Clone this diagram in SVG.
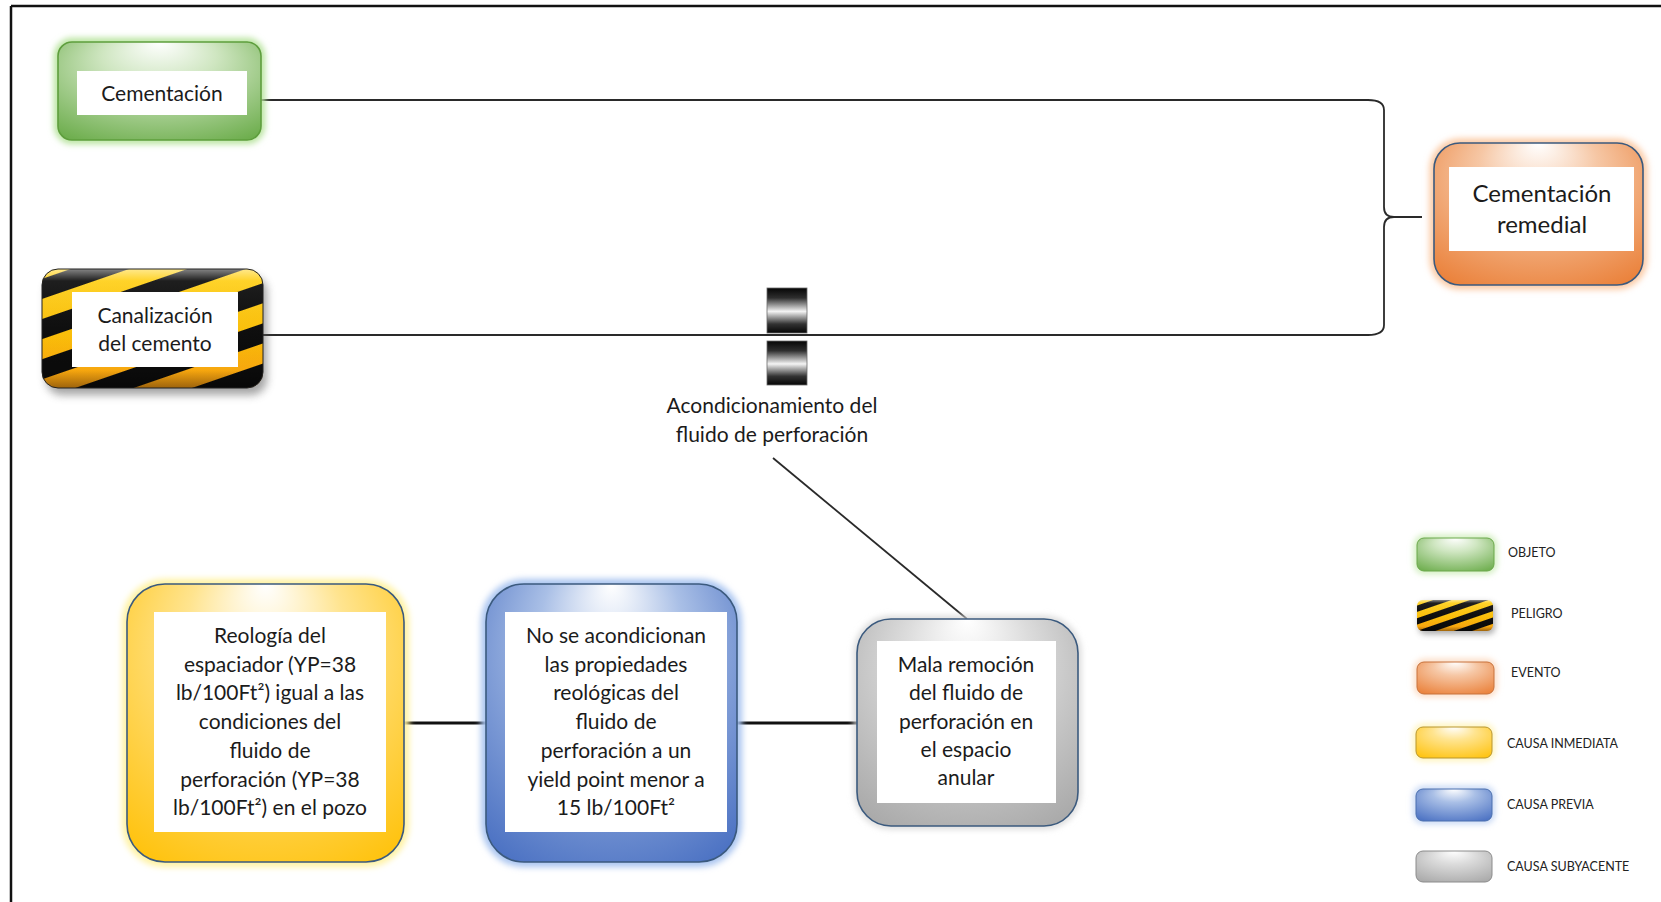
<svg xmlns="http://www.w3.org/2000/svg" width="1661" height="902" viewBox="0 0 1661 902">
  <style>
    .lbl { font-family: Lato, "Open Sans", "Liberation Sans", sans-serif; font-size: 21px; fill: #1b1b1b; text-anchor: middle; }
    .big { font-size: 24px; }
    .leg { font-family: Lato, "Open Sans", "Liberation Sans", sans-serif; font-size: 12.5px; fill: #222; }
    .conn { fill: none; stroke: #2a2a2a; stroke-width: 1.8; }
    .conn-heavy { fill: none; stroke: #111; stroke-width: 3; }
    .box { fill: #ffffff; }
    .edge { stroke: #3b5a7e; stroke-width: 1.6; }
  </style>
  <defs>
    <filter id="soft" x="-30%" y="-30%" width="160%" height="160%">
      <feGaussianBlur stdDeviation="3"/>
    </filter>
    <filter id="shadow" x="-30%" y="-30%" width="160%" height="160%">
      <feGaussianBlur stdDeviation="4"/>
    </filter>
    <radialGradient id="gGreen" cx="50%" cy="40%" r="80%" fx="50%" fy="0%">
      <stop offset="0" stop-color="#ffffff"/>
      <stop offset="0.35" stop-color="#cfe6c1"/>
      <stop offset="1" stop-color="#64a842"/>
    </radialGradient>
    <radialGradient id="gOrange" cx="50%" cy="40%" r="80%" fx="50%" fy="0%">
      <stop offset="0" stop-color="#ffffff"/>
      <stop offset="0.35" stop-color="#f6c7a5"/>
      <stop offset="1" stop-color="#e9792e"/>
    </radialGradient>
    <radialGradient id="gYellow" cx="50%" cy="40%" r="80%" fx="50%" fy="0%">
      <stop offset="0" stop-color="#ffffff"/>
      <stop offset="0.35" stop-color="#ffe48f"/>
      <stop offset="1" stop-color="#ffbf00"/>
    </radialGradient>
    <radialGradient id="gBlue" cx="50%" cy="40%" r="80%" fx="50%" fy="0%">
      <stop offset="0" stop-color="#ffffff"/>
      <stop offset="0.35" stop-color="#a9bfe6"/>
      <stop offset="1" stop-color="#4169bf"/>
    </radialGradient>
    <radialGradient id="gGray" cx="50%" cy="40%" r="80%" fx="50%" fy="0%">
      <stop offset="0" stop-color="#ffffff"/>
      <stop offset="0.35" stop-color="#dcdcdc"/>
      <stop offset="1" stop-color="#a3a3a3"/>
    </radialGradient>
    <linearGradient id="gHazBase" x1="0" y1="0" x2="0" y2="1">
      <stop offset="0" stop-color="#ffd21a"/>
      <stop offset="0.55" stop-color="#ffc107"/>
      <stop offset="1" stop-color="#f39a12"/>
    </linearGradient>
    <linearGradient id="gGloss" x1="0" y1="0" x2="0" y2="1">
      <stop offset="0" stop-color="#ffffff" stop-opacity="0.5"/>
      <stop offset="0.1" stop-color="#ffffff" stop-opacity="0.08"/>
      <stop offset="0.85" stop-color="#000000" stop-opacity="0"/>
      <stop offset="1" stop-color="#000000" stop-opacity="0.35"/>
    </linearGradient>
    <pattern id="stripes" patternUnits="userSpaceOnUse" width="300" height="38" patternTransform="translate(0,12) rotate(-19)">
      <rect width="300" height="19" fill="#0b0b0b"/>
    </pattern>
    <pattern id="stripesSmall" patternUnits="userSpaceOnUse" width="200" height="12" patternTransform="translate(0,2) rotate(-19)">
      <rect width="200" height="6" fill="#0b0b0b"/>
    </pattern>
    <linearGradient id="gBarrier" x1="0" y1="0" x2="0" y2="1">
      <stop offset="0" stop-color="#050505"/>
      <stop offset="0.22" stop-color="#2e2e2e"/>
      <stop offset="0.52" stop-color="#f4f4f4"/>
      <stop offset="0.8" stop-color="#333333"/>
      <stop offset="1" stop-color="#050505"/>
    </linearGradient>
  </defs>

  <!-- frame -->
  <g id="frame">
    <path d="M11 6 H1661 M11 6 V902" fill="none" stroke="#111" stroke-width="2.5"/>
  </g>

  <!-- connectors -->
  <g id="connectors">
    <path class="conn" d="M261 100 H1368 Q1384 100 1384 110 V207 Q1384 217 1394 217 H1422"/>
    <path class="conn" d="M263 335 H1368 Q1384 335 1384 325 V227 Q1384 217 1394 217"/>
    <path class="conn" d="M773 458 L967 619"/>
    <path class="conn-heavy" d="M404 723 H486"/>
    <path class="conn-heavy" d="M737 723 H857"/>
  </g>

  <!-- object -->
  <g id="node-cementacion">
    <rect x="58" y="42" width="203" height="98" rx="14" fill="none" stroke="#b6e39b" stroke-width="8" filter="url(#soft)"/>
    <rect x="58" y="42" width="203" height="98" rx="14" fill="url(#gGreen)" stroke="#5e9e3d" stroke-width="1.6"/>
    <rect class="box" x="77" y="71" width="170" height="44"/>
    <text class="lbl" x="162" y="101">Cementación</text>
  </g>

  <!-- hazard -->
  <g id="node-canalizacion">
    <rect x="46" y="276" width="221" height="119" rx="16" fill="#5a5a5a" opacity="0.55" filter="url(#shadow)"/>
    <rect x="42" y="269" width="221" height="119" rx="16" fill="url(#gHazBase)"/>
    <rect x="42" y="269" width="221" height="119" rx="16" fill="url(#stripes)"/>
    <rect x="42" y="269" width="221" height="119" rx="16" fill="url(#gGloss)" stroke="#222" stroke-width="1"/>
    <rect class="box" x="72" y="292" width="166" height="75"/>
    <text class="lbl" x="155" y="323">Canalización</text>
    <text class="lbl" x="155" y="351">del cemento</text>
  </g>

  <!-- event -->
  <g id="node-remedial">
    <rect x="1434" y="143" width="209" height="142" rx="26" fill="none" stroke="#fbc9a3" stroke-width="9" filter="url(#soft)"/>
    <rect class="edge" x="1434" y="143" width="209" height="142" rx="26" fill="url(#gOrange)"/>
    <rect class="box" x="1449" y="167" width="185" height="84"/>
    <text class="lbl big" x="1542" y="202">Cementación</text>
    <text class="lbl big" x="1542" y="233">remedial</text>
  </g>

  <!-- barrier -->
  <g id="barrier-acondicionamiento">
    <rect x="767" y="288" width="40" height="45" fill="url(#gBarrier)" stroke="#6a6a6a" stroke-width="0.8"/>
    <rect x="767" y="341" width="40" height="44" fill="url(#gBarrier)" stroke="#6a6a6a" stroke-width="0.8"/>
    <text class="lbl" x="772" y="413">Acondicionamiento del</text>
    <text class="lbl" x="772" y="442">fluido de perforación</text>
  </g>

  <!-- immediate cause -->
  <g id="node-reologia">
    <rect x="127" y="584" width="277" height="278" rx="38" fill="none" stroke="#fff2a0" stroke-width="10" filter="url(#soft)"/>
    <rect class="edge" x="127" y="584" width="277" height="278" rx="38" fill="url(#gYellow)"/>
    <rect class="box" x="154" y="612" width="232" height="220"/>
    <text class="lbl" x="270" y="643">Reología del</text>
    <text class="lbl" x="270" y="671.7">espaciador (YP=38</text>
    <text class="lbl" x="270" y="700.4">lb/100Ft²) igual a las</text>
    <text class="lbl" x="270" y="729.1">condiciones del</text>
    <text class="lbl" x="270" y="757.8">fluido de</text>
    <text class="lbl" x="270" y="786.5">perforación (YP=38</text>
    <text class="lbl" x="270" y="815.2">lb/100Ft²) en el pozo</text>
  </g>

  <!-- previous cause -->
  <g id="node-propiedades">
    <rect x="486" y="584" width="251" height="278" rx="38" fill="none" stroke="#a9c4f0" stroke-width="10" filter="url(#soft)"/>
    <rect class="edge" x="486" y="584" width="251" height="278" rx="38" fill="url(#gBlue)"/>
    <rect class="box" x="505" y="612" width="222" height="220"/>
    <text class="lbl" x="616" y="643">No se acondicionan</text>
    <text class="lbl" x="616" y="671.7">las propiedades</text>
    <text class="lbl" x="616" y="700.4">reológicas del</text>
    <text class="lbl" x="616" y="729.1">fluido de</text>
    <text class="lbl" x="616" y="757.8">perforación a un</text>
    <text class="lbl" x="616" y="786.5">yield point menor a</text>
    <text class="lbl" x="616" y="815.2">15 lb/100Ft²</text>
  </g>

  <!-- underlying cause -->
  <g id="node-remocion">
    <rect x="857" y="619" width="221" height="207" rx="34" fill="none" stroke="#d6d6d6" stroke-width="6" filter="url(#soft)"/>
    <rect class="edge" x="857" y="619" width="221" height="207" rx="34" fill="url(#gGray)"/>
    <rect class="box" x="877" y="641" width="179" height="162"/>
    <text class="lbl" x="966" y="672">Mala remoción</text>
    <text class="lbl" x="966" y="700.3">del fluido de</text>
    <text class="lbl" x="966" y="728.6">perforación en</text>
    <text class="lbl" x="966" y="756.9">el espacio</text>
    <text class="lbl" x="966" y="785.2">anular</text>
  </g>

  <!-- legend -->
  <g id="legend">
    <g id="legend-objeto">
      <rect x="1417" y="538" width="77" height="33" rx="7" fill="none" stroke="#c3e9aa" stroke-width="5" filter="url(#soft)"/>
      <rect x="1417" y="538" width="77" height="33" rx="7" fill="url(#gGreen)" stroke="#6aa84a" stroke-width="1"/>
      <text class="leg" x="1508" y="557">OBJETO</text>
    </g>
    <g id="legend-peligro">
      <rect x="1419" y="603" width="76" height="31" rx="6" fill="#555" opacity="0.5" filter="url(#soft)"/>
      <rect x="1417" y="600" width="76" height="31" rx="6" fill="url(#gHazBase)"/>
      <rect x="1417" y="600" width="76" height="31" rx="6" fill="url(#stripesSmall)"/>
      <rect x="1417" y="600" width="76" height="31" rx="6" fill="url(#gGloss)"/>
      <text class="leg" x="1511" y="618">PELIGRO</text>
    </g>
    <g id="legend-evento">
      <rect x="1417" y="662" width="77" height="32" rx="7" fill="none" stroke="#fbd1b3" stroke-width="5" filter="url(#soft)"/>
      <rect x="1417" y="662" width="77" height="32" rx="7" fill="url(#gOrange)" stroke="#c7723c" stroke-width="1"/>
      <text class="leg" x="1511" y="677">EVENTO</text>
    </g>
    <g id="legend-inmediata">
      <rect x="1416" y="727" width="76" height="31" rx="7" fill="none" stroke="#fff1a6" stroke-width="5" filter="url(#soft)"/>
      <rect x="1416" y="727" width="76" height="31" rx="7" fill="url(#gYellow)" stroke="#b8962f" stroke-width="1"/>
      <text class="leg" x="1507" y="748">CAUSA INMEDIATA</text>
    </g>
    <g id="legend-previa">
      <rect x="1416" y="789" width="76" height="32" rx="7" fill="none" stroke="#b7cdf2" stroke-width="5" filter="url(#soft)"/>
      <rect x="1416" y="789" width="76" height="32" rx="7" fill="url(#gBlue)" stroke="#4a6fae" stroke-width="1"/>
      <text class="leg" x="1507" y="809">CAUSA PREVIA</text>
    </g>
    <g id="legend-subyacente">
      <rect x="1416" y="851" width="76" height="31" rx="7" fill="url(#gGray)" stroke="#8c8c8c" stroke-width="1"/>
      <text class="leg" x="1507" y="871">CAUSA SUBYACENTE</text>
    </g>
  </g>
</svg>
